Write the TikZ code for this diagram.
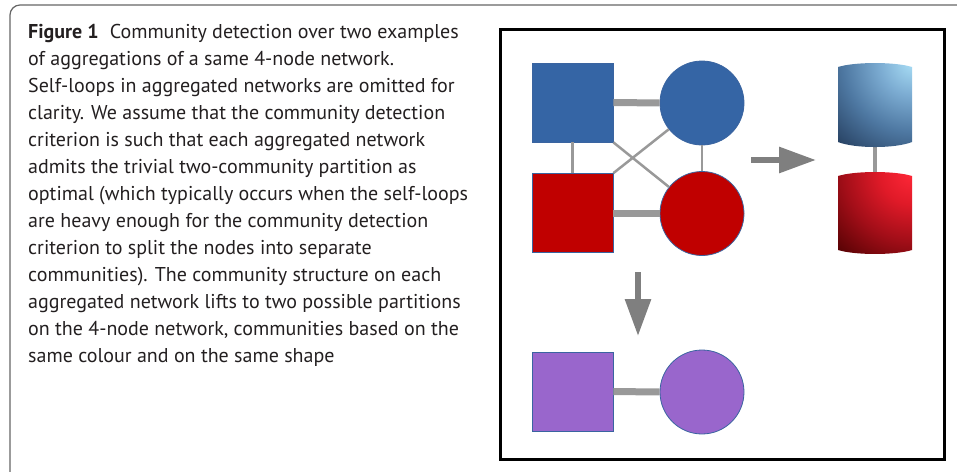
\documentclass[tikz,border=0pt]{standalone}
\usepackage{fontspec}
\setmainfont{PT Sans}
\usetikzlibrary{arrows.meta}
\definecolor{sqblue}{HTML}{3565A5}
\definecolor{sqred}{HTML}{C00000}
\definecolor{sqpurple}{HTML}{9966CC}
\definecolor{nodeline}{HTML}{3A64A0}
\definecolor{edgegrey}{HTML}{999999}
\definecolor{arrowgrey}{HTML}{7F7F7F}
\definecolor{captext}{HTML}{231F20}
\definecolor{cylbluehi}{HTML}{A8DDF5}
\definecolor{cylbluepale}{HTML}{7CACD2}
\definecolor{cylbluemid}{HTML}{4E78A2}
\definecolor{cylbluelo}{HTML}{223A5A}
\definecolor{cylredhi}{HTML}{FF2838}
\definecolor{cylredpale}{HTML}{E01A28}
\definecolor{cylredmid}{HTML}{A20E18}
\definecolor{cylredlo}{HTML}{4A0000}
\pgfdeclareradialshading{cylblue}{\pgfpoint{0bp}{0bp}}{color(0bp)=(cylbluehi); color(7bp)=(cylbluepale); color(15bp)=(cylbluemid); color(25bp)=(cylbluelo); color(50bp)=(cylbluelo)}
\pgfdeclareradialshading{cylred}{\pgfpoint{0bp}{0bp}}{color(0bp)=(cylredhi); color(7bp)=(cylredpale); color(15bp)=(cylredmid); color(25bp)=(cylredlo); color(50bp)=(cylredlo)}
\tikzset{
	sqnode/.style={draw=nodeline, line width=0.8, inner sep=0, minimum width=81, minimum height=79},
	cinode/.style={circle, draw=nodeline, line width=0.8, inner sep=0, minimum size=84},
	thickedge/.style={line width=7, color=edgegrey},
	thinedge/.style={line width=2.5, color=edgegrey},
	blockarrow/.style={line width=6, color=arrowgrey, -{Triangle[length=37, width=25]}}
}

\begin{document}
\begin{tikzpicture}[x=1pt, y=-1pt]
		%%%%% START %%%%%
		\useasboundingbox (0, 0) rectangle (957, 471);
		
		\draw[rounded corners=10, line width=1.2, color=black!60] (10, 500) -- (10, 5) -- (990, 5);
		
		% caption, anchored on its last baseline
		\node[anchor=base west, align=left, inner sep=0, color=captext, font=\fontsize{20}{27}\selectfont] (cap) at (28, 362) {\textbf{Figure 1}\hspace{0.55em}Community detection over two examples\\
			of aggregations of a same 4-node network.\\
			Self-loops in aggregated networks are omitted for\\
			clarity. We assume that the community detection\\
			criterion is such that each aggregated network\\
			admits the trivial two-community partition as\\
			optimal (which typically occurs when the self-loops\\
			are heavy enough for the community detection\\
			criterion to split the nodes into separate\\
			communities). The community structure on each\\
			aggregated network lifts to two possible partitions\\
			on the 4-node network, communities based on the\\
			same colour and on the same shape};
		
		\draw[line width=3] (500, 29) rectangle (944, 459);
		
		% 4-node network
		\node[sqnode, fill=sqblue] (bsq) at (572.5, 102.5) {};
		\node[cinode, fill=sqblue] (bci) at (702, 103) {};
		\node[sqnode, fill=sqred] (rsq) at (572.5, 213) {};
		\node[cinode, fill=sqred] (rci) at (702, 213.5) {};
		
		\draw[thickedge] (bsq) -- (bci);
		\draw[thickedge] (rsq.east) -- (rsq.east -| rci.west);
		\draw[thinedge] (bsq) -- (rsq);
		\draw[thinedge] (bci) -- (rci);
		\draw[thinedge] (bsq.south east) -- (rci);
		\draw[thinedge] (rsq.north east) -- (bci);
		
		% aggregated by colour
		\coordinate (bcyl) at (875, 145);
		\coordinate (rcyl) at (875, 174);
		\draw[line width=4, color=edgegrey] (bcyl) -- (rcyl);
		\begin{scope}
			\clip (838, 67) .. controls (855, 61.7) and (895, 61.7) .. (912, 67) -- (912, 142) .. controls (895, 148.7) and (855, 148.7) .. (838, 142) -- cycle;
			\shade[shading=cylblue] (912, 63) circle (115);
		\end{scope}
		\begin{scope}
			\clip (838, 176) .. controls (855, 170.7) and (895, 170.7) .. (912, 176) -- (912, 250) .. controls (895, 255.3) and (855, 255.3) .. (838, 250) -- cycle;
			\shade[shading=cylred] (912, 172) circle (115);
		\end{scope}
		
		\coordinate (rt1) at (751, 160);
		\coordinate (rt2) at (816, 160);
		\draw[blockarrow] (rt1) -- (rt2);
		
		% aggregated by shape
		\coordinate (dn1) at (638, 272);
		\coordinate (dn2) at (638, 336);
		\draw[blockarrow] (dn1) -- (dn2);
		
		\node[sqnode, fill=sqpurple] (psq) at (572.5, 391.5) {};
		\node[cinode, fill=sqpurple] (pci) at (702, 392) {};
		\draw[thickedge] (psq) -- (pci);
		
		%%%%% END %%%%%
\end{tikzpicture}
\end{document}
